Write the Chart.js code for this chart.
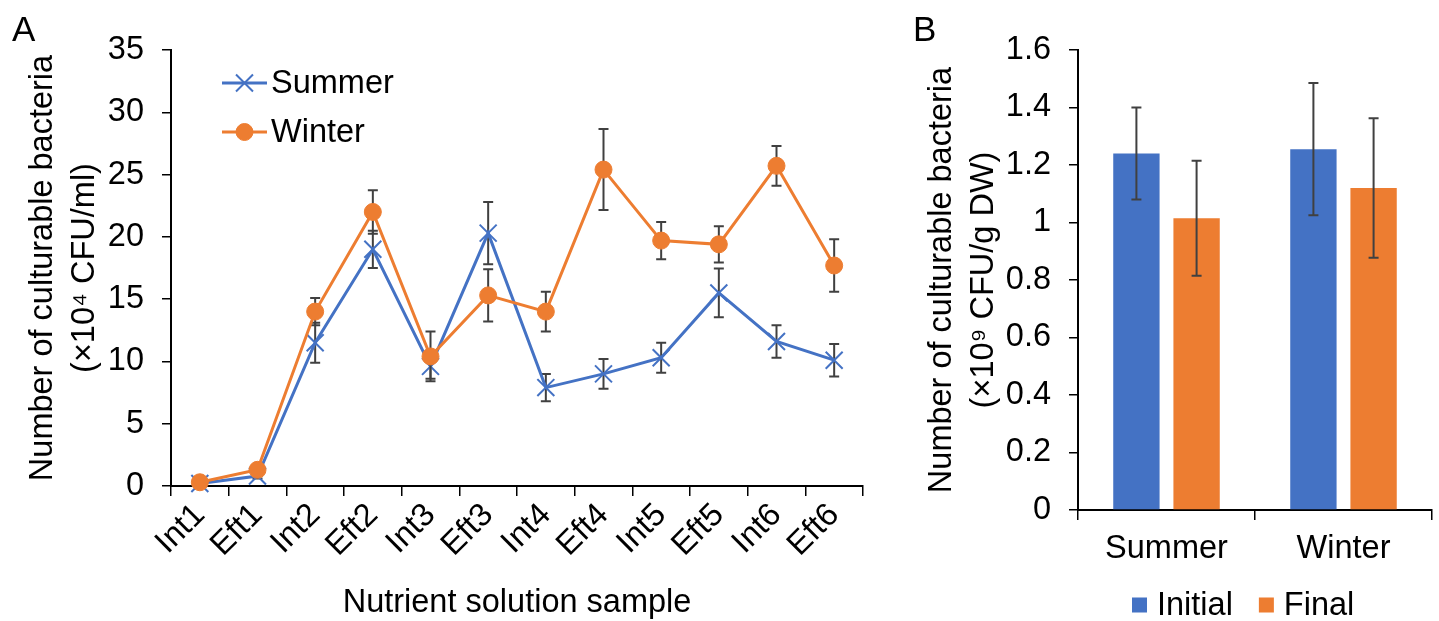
<!DOCTYPE html>
<html>
<head>
<meta charset="utf-8">
<script src="https://cdn.jsdelivr.net/npm/chart.js@4.4.0/dist/chart.umd.min.js"></script>
<style>
  html, body { margin: 0; padding: 0; background: #fff; }
  #wrap { position: relative; width: 1439px; height: 621px; overflow: hidden; }
  .panel { position: absolute; top: 0; height: 621px; }
  .letter { position: absolute; font-family: 'Liberation Sans', Arial, sans-serif; font-size: 35px; line-height: 1; color: #000; }
</style>
</head>
<body>
<div id="wrap">
  <div class="panel" style="left:0; width:900px;"><canvas id="chartA"></canvas></div>
  <div class="panel" style="left:900px; width:539px;"><canvas id="chartB"></canvas></div>
  <div class="letter" style="left:12px; top:11px;">A</div>
  <div class="letter" style="left:913px; top:11px;">B</div>
</div>
<script>
// Panel A - culturable bacteria in nutrient solution (x10^4 CFU/ml)
const samples = ['Int1', 'Eft1', 'Int2', 'Eft2', 'Int3', 'Eft3', 'Int4', 'Eft4', 'Int5', 'Eft5', 'Int6', 'Eft6'];
const summerMean = [0.2, 0.8, 11.5, 19.0, 9.6, 20.3, 7.9, 9.0, 10.3, 15.5, 11.6, 10.1];
const summerErr  = [0.1, 0.2, 1.6, 1.5, 1.0, 2.5, 1.1, 1.2, 1.2, 1.95, 1.3, 1.3];
const winterMean = [0.3, 1.3, 14.0, 22.0, 10.4, 15.3, 14.0, 25.4, 19.7, 19.4, 25.7, 17.7];
const winterErr  = [0.1, 0.2, 1.1, 1.75, 2.0, 2.1, 1.6, 3.25, 1.5, 1.45, 1.6, 2.1];

// Panel B - culturable bacteria on substrate (x10^9 CFU/g DW)
const seasons = ['Summer', 'Winter'];
const initialMean = [1.24, 1.255];
const initialErr  = [0.16, 0.23];
const finalMean   = [1.015, 1.12];
const finalErr    = [0.2, 0.243];

const BLUE = '#4472C4';
const ORANGE = '#ED7D31';
const FONT = { family: "'Liberation Sans', Arial, sans-serif", size: 32.5 };

// draw error bars for one dataset
function drawErrors(chart, index) {
    const ds = chart.data.datasets[index];
    if (!ds.errors) return;
    const meta = chart.getDatasetMeta(index);
    const y = chart.scales.y;
    const ctx = chart.ctx;
    ctx.save();
    ctx.strokeStyle = '#404040';
    ctx.lineWidth = 2;
    meta.data.forEach((el, i) => {
        const v = ds.data[i], e = ds.errors[i];
        const top = y.getPixelForValue(v + e);
        const bot = y.getPixelForValue(v - e);
        const x = el.x;
        ctx.beginPath();
        ctx.moveTo(x, top); ctx.lineTo(x, bot);
        ctx.moveTo(x - 5, top); ctx.lineTo(x + 5, top);
        ctx.moveTo(x - 5, bot); ctx.lineTo(x + 5, bot);
        ctx.stroke();
    });
    ctx.restore();
}

// error bars under the markers (line chart)
const errorsBehind = {
    id: 'errorsBehind',
    beforeDatasetDraw(chart, args) { drawErrors(chart, args.index); }
};

// error bars on top of the bars (bar chart)
const errorsFront = {
    id: 'errorsFront',
    afterDatasetDraw(chart, args) { drawErrors(chart, args.index); }
};

// legend with line + marker, inside plot area
const lineLegend = {
    id: 'lineLegend',
    afterDraw(chart, args, opts) {
        const ctx = chart.ctx;
        const area = chart.chartArea;
        ctx.save();
        ctx.font = `${FONT.size}px ${FONT.family}`;
        ctx.textBaseline = 'middle';
        ctx.textAlign = 'left';
        chart.data.datasets.forEach((ds, i) => {
            const x = area.left + opts.x;
            const y = area.top + opts.y + i * opts.rowGap;
            ctx.strokeStyle = ds.borderColor;
            ctx.lineWidth = ds.borderWidth;
            ctx.beginPath();
            ctx.moveTo(x, y);
            ctx.lineTo(x + opts.lineLength, y);
            ctx.stroke();
            ctx.fillStyle = ds.backgroundColor;
            ctx.strokeStyle = ds.borderColor;
            ctx.lineWidth = ds.pointBorderWidth;
            Chart.helpers.drawPoint(ctx, {
                pointStyle: ds.pointStyle,
                radius: ds.pointRadius,
                rotation: 0,
                borderWidth: ds.pointBorderWidth
            }, x + opts.lineLength / 2, y);
            ctx.fillStyle = '#000';
            ctx.fillText(ds.label, x + opts.lineLength + 4, y + 1);
        });
        ctx.restore();
    }
};

// legend with squares, below the axis
const boxLegend = {
    id: 'boxLegend',
    afterDraw(chart, args, opts) {
        const ctx = chart.ctx;
        const area = chart.chartArea;
        ctx.save();
        ctx.font = `${FONT.size}px ${FONT.family}`;
        ctx.textBaseline = 'middle';
        ctx.textAlign = 'left';
        let x = area.left + opts.x;
        const y = opts.y;
        chart.data.datasets.forEach(ds => {
            ctx.fillStyle = ds.backgroundColor;
            ctx.fillRect(x, y - opts.box / 2, opts.box, opts.box);
            x += opts.box + 10;
            ctx.fillStyle = '#000';
            ctx.fillText(ds.label, x, y + 1);
            x += ctx.measureText(ds.label).width + 26;
        });
        ctx.restore();
    }
};

const axisGrid = { drawOnChartArea: false, color: '#000', lineWidth: 1.5 };
const axisBorder = { color: '#000', width: 2 };

new Chart(document.getElementById('chartA'), {
    type: 'line',
    data: {
        labels: samples,
        datasets: [
            {
                label: 'Summer',
                data: summerMean,
                errors: summerErr,
                borderColor: BLUE,
                backgroundColor: BLUE,
                borderWidth: 3,
                pointStyle: 'crossRot',
                pointRadius: 12,
                pointBorderWidth: 2,
                clip: false,
                order: 1
            },
            {
                label: 'Winter',
                data: winterMean,
                errors: winterErr,
                borderColor: ORANGE,
                backgroundColor: ORANGE,
                borderWidth: 3,
                pointStyle: 'circle',
                pointRadius: 8.5,
                pointBorderWidth: 1,
                clip: false,
                order: 0
            }
        ]
    },
    options: {
        responsive: true,
        maintainAspectRatio: false,
        animation: false,
        layout: { padding: { left: 0, top: 50, right: 37, bottom: 0 } },
        plugins: {
            legend: { display: false },
            tooltip: { enabled: false },
            lineLegend: { x: 51, y: 33, rowGap: 49, lineLength: 45 }
        },
        scales: {
            x: {
                offset: true,
                grid: { ...axisGrid, offset: true, tickLength: 10 },
                border: axisBorder,
                ticks: { color: '#000', font: FONT, minRotation: 45, maxRotation: 45, autoSkip: false, padding: 0 },
                title: { display: true, text: 'Nutrient solution sample', color: '#000', font: { ...FONT, lineHeight: 1.1 }, padding: 0 },
                afterFit: s => { s.height = 135; }
            },
            y: {
                min: 0,
                max: 35,
                grid: { ...axisGrid, tickLength: 9 },
                border: axisBorder,
                ticks: { stepSize: 5, color: '#000', font: FONT, padding: 18 },
                title: {
                    display: true,
                    text: ['Number of culturable bacteria', '(×10⁴ CFU/ml)'],
                    color: '#000',
                    font: { ...FONT, lineHeight: 1.3 },
                    padding: { top: 22, bottom: 0 }
                },
                afterFit: s => { s.width = 171; }
            }
        }
    },
    plugins: [errorsBehind, lineLegend]
});

new Chart(document.getElementById('chartB'), {
    type: 'bar',
    data: {
        labels: seasons,
        datasets: [
            { label: 'Initial', data: initialMean, errors: initialErr, backgroundColor: BLUE, categoryPercentage: 0.68, barPercentage: 0.77 },
            { label: 'Final', data: finalMean, errors: finalErr, backgroundColor: ORANGE, categoryPercentage: 0.68, barPercentage: 0.77 }
        ]
    },
    options: {
        responsive: true,
        maintainAspectRatio: false,
        animation: false,
        layout: { padding: { left: 0, top: 50, right: 7, bottom: 0 } },
        plugins: {
            legend: { display: false },
            tooltip: { enabled: false },
            boxLegend: { x: 54, y: 605, box: 15 }
        },
        scales: {
            x: {
                grid: { ...axisGrid, offset: true, tickLength: 10 },
                border: axisBorder,
                ticks: { color: '#000', font: FONT, padding: 10 },
                afterFit: s => { s.height = 111; }
            },
            y: {
                min: 0,
                max: 1.6,
                grid: { ...axisGrid, tickLength: 9 },
                border: axisBorder,
                ticks: {
                    stepSize: 0.2,
                    color: '#000',
                    font: FONT,
                    padding: 18,
                    callback: v => String(Math.round(v * 10) / 10)
                },
                title: {
                    display: true,
                    text: ['Number of culturable bacteria', '(×10⁹ CFU/g DW)'],
                    color: '#000',
                    font: { ...FONT, lineHeight: 1.3 },
                    padding: { top: 21, bottom: 0 }
                },
                afterFit: s => { s.width = 178; }
            }
        }
    },
    plugins: [errorsFront, boxLegend]
});
</script>
</body>
</html>
